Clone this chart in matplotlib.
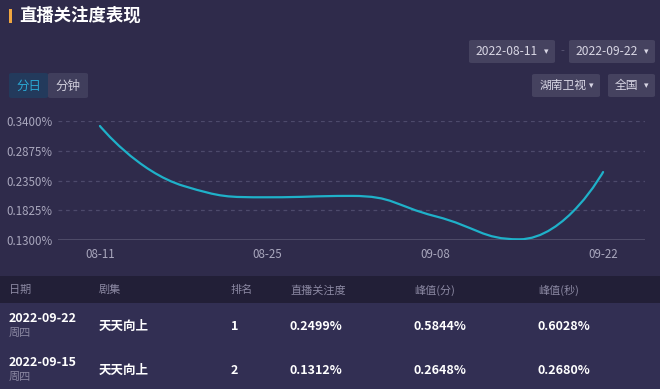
import math
import matplotlib
matplotlib.use("Agg")
import matplotlib.pyplot as plt
from matplotlib.path import Path
from matplotlib.patches import PathPatch, FancyBboxPatch, Rectangle

plt.rcParams['font.family'] = ['Noto Sans CJK SC', 'DejaVu Sans']

# ---- data ----
dates = ['08-11', '08-18', '08-25', '09-01', '09-08', '09-15', '09-22']
attention = [0.3312, 0.2253, 0.2054, 0.2078, 0.1719, 0.1312, 0.2499]
yticks = [0.13, 0.1825, 0.235, 0.2875, 0.34]

headers = ['日期', '剧集', '排名', '直播关注度', '峰值(分)', '峰值(秒)']
row_dates = ['2022-09-22', '2022-09-15']
row_weekday = ['周四', '周四']
row_show = ['天天向上', '天天向上']
row_rank = ['1', '2']
row_attention = ['0.2499%', '0.1312%']
row_peak_min = ['0.5844%', '0.2648%']
row_peak_sec = ['0.6028%', '0.2680%']

BG = '#2f2b4b'
W, H = 660, 389

fig = plt.figure(figsize=(6.6, 3.89), dpi=100, facecolor=BG)


def fx(x):
    return x / W


def fy(y):
    return 1 - y / H


def label(x, y, s, **kw):
    fig.text(fx(x), fy(y), s, va='center', **kw)


def box(x0, y0, x1, y1, color):
    fig.patches.append(FancyBboxPatch((fx(x0), fy(y1)), fx(x1 - x0), (y1 - y0) / H,
                                      boxstyle='round,pad=0,rounding_size=0.004',
                                      transform=fig.transFigure, fc=color, ec='none'))


def band(y0, y1, color):
    fig.patches.append(Rectangle((0, fy(y1)), 1, (y1 - y0) / H,
                                 transform=fig.transFigure, fc=color, ec='none'))


# title
fig.patches.append(Rectangle((fx(9), fy(23)), fx(3), 14 / H, transform=fig.transFigure,
                             fc='#f0a640', ec='none'))
label(19, 16, '直播关注度表现', color='white', fontsize=12.5, fontweight='bold')

# buttons
box(9, 73, 48, 98, '#233a5c')
box(48, 73, 88, 98, '#403e5c')
label(28.5, 86, '分日', color='#2aa6d2', fontsize=9, ha='center')
label(68, 86, '分钟', color='#cfcdda', fontsize=9, ha='center')

# date pickers
box(469, 40, 555, 63, '#45425f')
box(569, 40, 655, 63, '#45425f')
label(507, 51.5, '2022-08-11', color='#d8d6e4', fontsize=8.7, ha='center')
label(546, 51.5, '▾', color='#d8d6e4', fontsize=6.5, ha='center')
label(562, 51.5, '-', color='#5d5a78', fontsize=8, ha='center')
label(607, 51.5, '2022-09-22', color='#d8d6e4', fontsize=8.7, ha='center')
label(646, 51.5, '▾', color='#d8d6e4', fontsize=6.5, ha='center')

box(532, 74, 600, 97, '#45425f')
box(608, 74, 655, 97, '#45425f')
label(563, 85.5, '湖南卫视', color='#d8d6e4', fontsize=8.5, ha='center')
label(591, 85.5, '▾', color='#d8d6e4', fontsize=6.5, ha='center')
label(626, 85.5, '全国', color='#d8d6e4', fontsize=8.5, ha='center')
label(646, 85.5, '▾', color='#d8d6e4', fontsize=6.5, ha='center')

# ---- line chart ----
ax_l, ax_r, ax_t, ax_b = 58, 645, 121, 240
ax = fig.add_axes([fx(ax_l), fy(ax_b), fx(ax_r - ax_l), (ax_b - ax_t) / H])
ax.set_facecolor('none')
xs = list(range(len(dates)))
ax.set_xlim(-0.5, len(dates) - 0.5)
ax.set_ylim(yticks[0], yticks[-1])

# echarts-style smooth bezier, computed in pixel space
sx = (ax_r - ax_l) / len(dates)
sy = (ax_b - ax_t) / (yticks[-1] - yticks[0])
pts = [(x * sx, v * sy) for x, v in zip(xs, attention)]
smooth = 0.5
verts = [pts[0]]
codes = [Path.MOVETO]
c0x, c0y = pts[0]
for i in range(1, len(pts)):
    x, y = pts[i]
    if i < len(pts) - 1:
        px, py = pts[i - 1]
        nx, ny = pts[i + 1]
        vx, vy = nx - px, ny - py
        lp = math.hypot(x - px, y - py)
        ln = math.hypot(nx - x, ny - y)
        r = ln / (ln + lp)
        ncx = x + vx * smooth * r
        ncy = y + vy * smooth * r
        ncx = max(min(ncx, max(nx, x)), min(nx, x))
        ncy = max(min(ncy, max(ny, y)), min(ny, y))
        vx, vy = ncx - x, ncy - y
        c1x = x - vx * lp / ln
        c1y = y - vy * lp / ln
        c1x = max(min(c1x, max(px, x)), min(px, x))
        c1y = max(min(c1y, max(py, y)), min(py, y))
        vx, vy = x - c1x, y - c1y
        ncx = x + vx * ln / lp
        ncy = y + vy * ln / lp
    else:
        c1x, c1y = x, y
        ncx, ncy = x, y
    verts += [(c0x, c0y), (c1x, c1y), (x, y)]
    codes += [Path.CURVE4] * 3
    c0x, c0y = ncx, ncy
verts = [(a / sx, b / sy) for a, b in verts]
ax.add_patch(PathPatch(Path(verts, codes), fill=False, ec='#1fb1c9', lw=1.6,
                       capstyle='round', joinstyle='round', zorder=3))

for t in yticks[1:]:
    ax.axhline(t, color='#4d4a6b', lw=0.9, ls=(0, (3, 3)), zorder=1)
ax.axhline(yticks[0], color='#55526f', lw=1.2, zorder=1)
for s in ax.spines.values():
    s.set_visible(False)
ax.set_yticks(yticks)
ax.set_yticklabels(['%.4f%%' % t for t in yticks])
ax.set_xticks(xs[::2])
ax.set_xticklabels(dates[::2])
ax.tick_params(length=0, colors='#a9a7bd', labelsize=8.3)
ax.tick_params(axis='y', pad=4)
ax.tick_params(axis='x', pad=6)

# ---- table ----
band(276, 303, '#221f37')
band(303, 389, '#322f53')
col_x = [9, 99, 231, 290, 414, 538]
for cx, h in zip(col_x, headers):
    label(cx, 290, h, color='#8b88a2', fontsize=8)

row_y = [326, 370]
for i, ry in enumerate(row_y):
    label(col_x[0], ry - 8, row_dates[i], color='white', fontsize=9, fontweight='bold')
    label(col_x[0], ry + 7, row_weekday[i], color='#8b88a2', fontsize=8)
    label(col_x[1], ry, row_show[i], color='white', fontsize=9, fontweight='bold')
    label(col_x[2], ry, row_rank[i], color='white', fontsize=9, fontweight='bold')
    label(col_x[3], ry, row_attention[i], color='white', fontsize=9, fontweight='bold')
    label(col_x[4], ry, row_peak_min[i], color='white', fontsize=9, fontweight='bold')
    label(col_x[5], ry, row_peak_sec[i], color='white', fontsize=9, fontweight='bold')

fig.savefig('out.png', dpi=100, facecolor=BG)
